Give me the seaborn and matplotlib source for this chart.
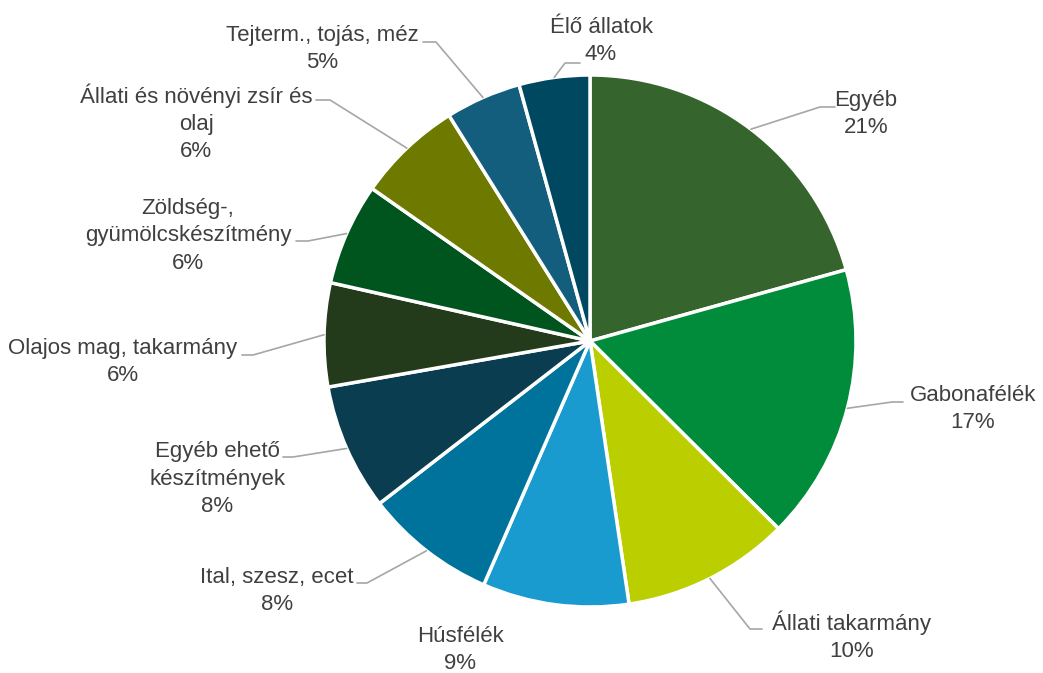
import numpy as np
import matplotlib
matplotlib.use("Agg")
import matplotlib.pyplot as plt
import seaborn as sns

# adatok (óramutató járásával, felülről indulva)
kategoriak = ["Egyéb", "Gabonafélék", "Állati takarmány", "Húsfélék",
              "Ital, szesz, ecet", "Egyéb ehető\nkészítmények",
              "Olajos mag, takarmány", "Zöldség-,\ngyümölcskészítmény",
              "Állati és növényi zsír és\nolaj", "Tejterm., tojás, méz",
              "Élő állatok"]
reszesedes = [20.7, 16.8, 10.2, 8.9, 8.0, 7.7, 6.3, 6.2, 6.4, 4.6, 4.3]

szinek = ["#35652D", "#008C3A", "#BACE00", "#1A9BCF", "#00739C", "#0A3D50",
          "#233B1A", "#00551F", "#6E7900", "#135E7D", "#00485F"]

# címkék helye pixelben (szövegblokk közepe), töréspont és vég a vezetővonalhoz
CX, CY, R = 590, 341, 266
cimke_hely = [(866, 114), (973, 409), (852, 636), (460, 650), (277, 591),
              (217, 479), (123, 362), (188, 236), (196, 123), (322, 49),
              (601, 41)]
toresek = [((820, 107), (835, 107)), ((892, 402), (903, 402)),
           ((750, 629), (762, 629)), None, ((367, 583), (357, 583)),
           ((293, 457), (283, 457)), ((253, 355), (242, 355)),
           ((308, 241), (296, 241)), ((330, 100), (316, 100)),
           ((436, 42), (423, 42)), ((565, 63), (580, 63))]


def px(p):
    return ((p[0] - CX) / R, (CY - p[1]) / R)


sns.set_style("white")
plt.rcParams['font.family'] = ['Liberation Sans', 'DejaVu Sans']

fig = plt.figure(figsize=(10.43, 6.73), dpi=100)
ax = fig.add_axes([0, 0, 1, 1])

wedges, _ = ax.pie(reszesedes, colors=szinek, startangle=90, counterclock=False,
                   radius=1, wedgeprops=dict(edgecolor="white", linewidth=2.5))

for w, nev, v, hely, tores in zip(wedges, kategoriak, reszesedes, cimke_hely, toresek):
    tx, ty = px(hely)
    ax.text(tx, ty, f"{nev}\n{round(v)}%", ha="center", va="center",
            multialignment="center", fontsize=16, color="#404040", linespacing=1.38)
    if tores is None:
        continue
    szog = np.deg2rad((w.theta1 + w.theta2) / 2)
    x0, y0 = np.cos(szog), np.sin(szog)
    (x1, y1), (x2, y2) = px(tores[0]), px(tores[1])
    ax.plot([x0, x1, x2], [y0, y1, y2], color="#A6A6A6", lw=1.2)

ax.set_xlim(-CX / R, (1043 - CX) / R)
ax.set_ylim(-(673 - CY) / R, CY / R)
ax.set_aspect("equal")
ax.axis("off")

fig.savefig("out.png", dpi=100)
